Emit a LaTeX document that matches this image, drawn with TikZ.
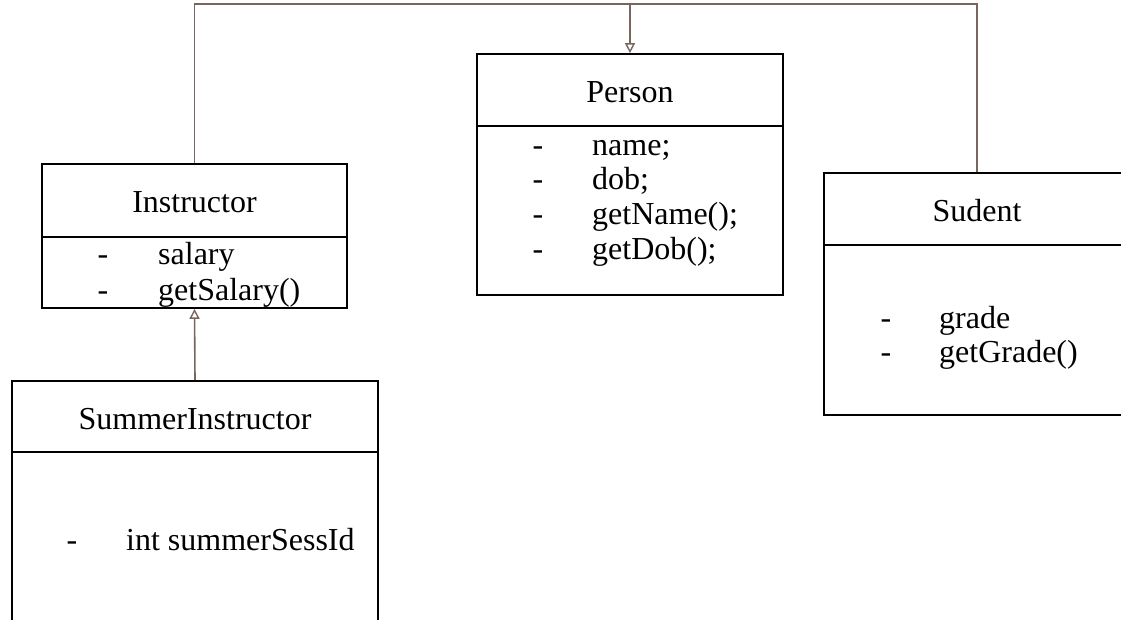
\documentclass[tikz,border=0pt]{standalone}
\usepackage{fontspec}
\setmainfont{Liberation Serif}
\usetikzlibrary{arrows.meta}
\definecolor{conn}{RGB}{122,100,94}
\begin{document}
\begin{tikzpicture}[x=1pt,y=-1pt,
  classbox/.style={draw=black,line width=1.7pt,rectangle,inner sep=0pt},
  divline/.style={draw=black,line width=1.7pt},
  txt/.style={inner sep=0pt,font=\fontsize{32}{34.5}\selectfont},
  conline/.style={draw=conn,line width=1.6pt},
  inh/.style={conline,-{Triangle[open,length=10pt,width=10pt,line width=1.4pt]}}]
\useasboundingbox (0,0) rectangle (1121,620);
\clip (0,0) rectangle (1121,620);
\fill[white] (0,0) rectangle (1121,620);

% Person
\node[classbox,minimum width=306pt,minimum height=241pt] (person) at (630,174.5) {};
\draw[divline] (477,126) -- (783,126);
\node[txt,anchor=base] (ptitle) at (630,103) {Person};
\node[txt,anchor=base] (pd1) at (538,156) {-};
\node[txt,anchor=base west] (pi1) at (592,156) {name;};
\node[txt,anchor=base] (pd2) at (538,190) {-};
\node[txt,anchor=base west] (pi2) at (592,190) {dob;};
\node[txt,anchor=base] (pd3) at (538,225) {-};
\node[txt,anchor=base west] (pi3) at (592,225) {getName();};
\node[txt,anchor=base] (pd4) at (538,259) {-};
\node[txt,anchor=base west] (pi4) at (592,259) {getDob();};

% Instructor
\node[classbox,minimum width=305pt,minimum height=144pt] (instr) at (194.5,236) {};
\draw[divline] (42,237) -- (347,237);
\node[txt,anchor=base] (ititle) at (194.5,213) {Instructor};
\node[txt,anchor=base] (id1) at (103,265) {-};
\node[txt,anchor=base west] (ii1) at (158,265) {salary};
\node[txt,anchor=base] (id2) at (103,300) {-};
\node[txt,anchor=base west] (ii2) at (158,300) {getSalary()};

% Sudent
\node[classbox,minimum width=306pt,minimum height=242pt] (sud) at (977,294) {};
\draw[divline] (824,245) -- (1130,245);
\node[txt,anchor=base] (stitle) at (977,222) {Sudent};
\node[txt,anchor=base] (sd1) at (886,328) {-};
\node[txt,anchor=base west] (si1) at (939,328) {grade};
\node[txt,anchor=base] (sd2) at (886,362) {-};
\node[txt,anchor=base west] (si2) at (939,362) {getGrade()};

% SummerInstructor
\node[classbox,minimum width=366pt,minimum height=269pt] (summer) at (195,515.5) {};
\draw[divline] (12,452) -- (378,452);
\node[txt,anchor=base] (smtitle) at (195,429) {SummerInstructor};
\node[txt,anchor=base] (smd1) at (72,550) {-};
\node[txt,anchor=base west] (smi1) at (126,550) {int summerSessId};

% connectors
\coordinate (busL) at (instr.north |- 0,4);
\coordinate (busR) at (sud.north |- 0,4);
\coordinate (busP) at (person.north |- 0,4);
\draw[conline] (instr.north) -- (busL) -- (busR) -- (sud.north);
\draw[inh] (busP) -- (person.north);
\draw[inh] (summer.north) -- (instr.south);
\end{tikzpicture}
\end{document}
